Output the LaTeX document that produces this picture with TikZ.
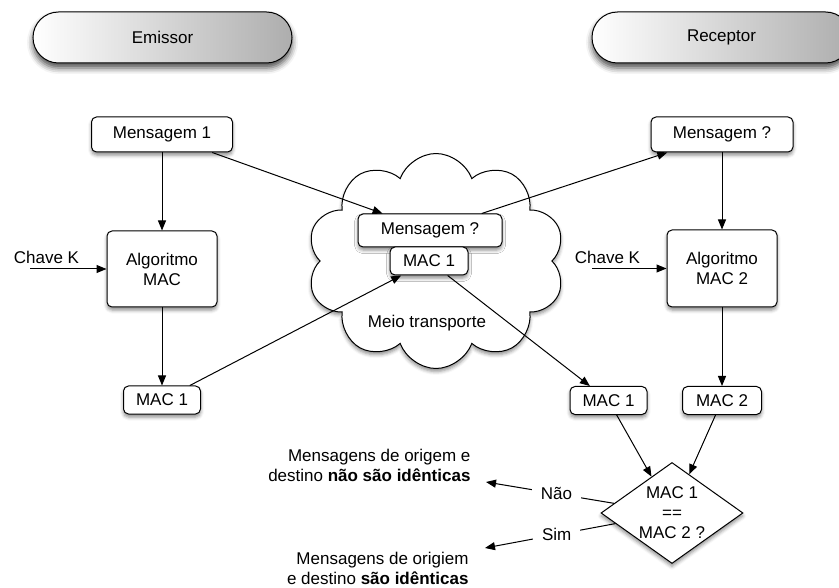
\documentclass[tikz,border=0pt]{standalone}
\usepackage{fontspec}
\setmainfont{Liberation Sans}
\usetikzlibrary{shapes.geometric,shapes.symbols,shapes.misc,arrows.meta,shadows.blur}

\tikzset{
  every node/.style={font=\fontsize{17}{20}\selectfont},
  softshadow/.style={blur shadow={shadow xshift=0pt, shadow yshift=-3pt,
      shadow blur radius=3.5pt, shadow opacity=45}},
  box/.style={draw, line width=1pt, rounded corners=5pt, fill=white,
      inner sep=0pt, align=center, softshadow},
  pill/.style={draw, line width=1pt, rounded rectangle, inner sep=0pt,
      minimum width=259pt, minimum height=51pt,
      left color=white, right color=black!32,
      blur shadow={shadow xshift=0pt, shadow yshift=-5pt,
      shadow blur radius=6pt, shadow opacity=70}},
  cloudshape/.style={cloud, cloud puffs=10, cloud puff arc=140,
      aspect=1.2, shape border rotate=18, draw, line width=1pt, fill=white,
      minimum width=258pt, minimum height=215pt, inner sep=0pt, softshadow},
  decision/.style={diamond, draw, line width=1pt, fill=white, inner sep=0pt,
      minimum width=142pt, minimum height=101pt, softshadow},
  arr/.style={line width=1pt, -{Triangle[length=10pt,width=8pt]}},
  lbl/.style={fill=white, inner xsep=9pt, inner ysep=1pt},
}

\begin{document}
\begin{tikzpicture}[x=1pt,y=-1pt]
\useasboundingbox (0,0) rectangle (839,588);

% sender and receiver headers
\node[pill] (emi) at (162.5,37.5) {Emissor};
\node[pill] (rec) at (721.5,37.5) {Receptor};

% transport medium
\node[cloudshape] (cloud) at (436,261) {};
\node (meio) at (427,323) {Meio transporte};

% sender side
\node[box, minimum width=141pt, minimum height=35pt] (m1) at (162,134.5) {Mensagem 1};
\node[box, minimum width=110pt, minimum height=76pt] (alg) at (162,269) {Algoritmo\\MAC};
\node[box, minimum width=77pt, minimum height=28pt] (macL) at (162,400) {MAC 1};
\node (kL) at (46.5,257) {Chave K};
\coordinate (kaL) at (30,269);

% contents in transit
\node[box, minimum width=144pt, minimum height=33pt] (cm) at (430,230.5) {Mensagem ?};
\node[box, minimum width=78pt, minimum height=28pt] (cmac) at (429,261) {MAC 1};

% receiver side
\node[box, minimum width=142pt, minimum height=35pt] (rm) at (722,134.5) {Mensagem ?};
\node[box, minimum width=110pt, minimum height=77pt] (alg2) at (722,268.5) {Algoritmo\\MAC 2};
\node[box, minimum width=77pt, minimum height=28pt] (macR) at (608.5,400.5) {MAC 1};
\node[box, minimum width=79pt, minimum height=28pt] (mac2) at (722,400.5) {MAC 2};
\node (kR) at (607.5,257) {Chave K};
\coordinate (kaR) at (592,268.5);

% comparison
\node[decision] (cmp) at (672,513) {};
\node[align=center] (cmpt) at (672,513) {MAC 1\\==\\MAC 2 ?};

% outcomes
\node[align=right, anchor=east] (tn) at (474,465) {Mensagens de origem e\\destino \textbf{não são idênticas}};
\node[align=right, anchor=east] (ts) at (472,568) {Mensagens de origiem\\e destino \textbf{são idênticas}};
\coordinate (noE) at (486,482);
\coordinate (simE) at (485,548);

% connectors
\draw[arr] (m1) -- (alg);
\draw[arr] (alg) -- (macL);
\draw[arr] (kaL) -- (alg);
\draw[arr] (m1) -- (cm);
\draw[arr] (cm) -- (rm);
\draw[arr] (macL) -- (cmac);
\draw[arr] (cmac) -- (macR);
\draw[arr] (rm) -- (alg2);
\draw[arr] (alg2) -- (mac2);
\draw[arr] (kaR) -- (alg2);
\draw[arr] (macR) -- (cmp);
\draw[arr] (mac2) -- (cmp);
\draw[arr] (cmp) -- node[lbl, pos=0.45] (nao) {Não} (noE);
\draw[arr] (cmp) -- node[lbl, pos=0.45] (sim) {Sim} (simE);
\end{tikzpicture}
\end{document}
